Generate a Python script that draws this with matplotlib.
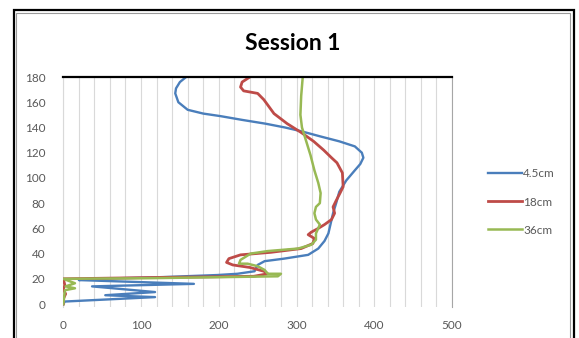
import matplotlib
matplotlib.use("Agg")
import matplotlib.pyplot as plt
from matplotlib.patches import Rectangle
from matplotlib.lines import Line2D

plt.rcParams['font.family'] = ['Lato', 'DejaVu Sans']

title = "Session 1"
series_names = ["4.5cm", "18cm", "36cm"]

blue_x = [158, 150, 145, 144, 148, 160, 180, 202, 230, 260, 285, 306, 330, 355, 375, 384, 386, 382,
          375, 364, 355, 351, 347, 344, 341, 336, 328, 315, 284, 259, 250, 246, 224, 198, 112, 34,
          20, 168, 37, 118, 54, 118, 2, 0]
blue_y = [180, 176, 171, 167, 160, 154, 151, 149, 146, 143, 140, 137, 133, 129, 125, 120, 116, 111,
          106, 98, 89, 80, 72, 64, 56, 50, 44, 39, 36, 34, 31, 26, 24, 23, 21, 20,
          19, 16, 14, 9.5, 7, 5.5, 2, 0]

red_x = [240, 230, 228, 232, 250, 258, 271, 288, 306, 322, 335, 345, 352, 359, 360, 356, 351, 347,
         349, 345, 336, 328, 319, 315, 323, 321, 306, 267, 228, 213, 210, 218, 240, 258, 263, 245,
         112, 0, 2, 0, 3, 0, 0]
red_y = [180, 176, 172, 169, 167, 162, 151, 143, 136, 129, 122, 116, 112, 104, 93, 88, 82, 77,
         72, 67, 63, 60, 57, 55, 52, 48, 44, 41, 39, 36, 33, 31, 29, 26, 24, 22,
         21, 20, 15, 12, 8, 4, 0]

green_x = [308, 306, 305, 307, 312, 318, 323, 328, 331, 330, 325, 323, 325, 330, 325, 325, 319, 302,
           263, 241, 228, 226, 237, 250, 259, 263, 280, 276, 112, 0, 15, 3, 15, 2, 1, 0]
green_y = [180, 165, 150, 140, 130, 118, 106, 96, 88, 80, 77, 72, 67, 63, 56, 51, 47, 44,
           42, 40, 35, 32, 32, 30, 27, 24, 24, 22, 20.5, 20, 16.5, 14, 12.5, 11, 5, 0]

x_ticks = [0, 100, 200, 300, 400, 500]
y_ticks = [0, 20, 40, 60, 80, 100, 120, 140, 160, 180]
y_marks = [20, 60, 100, 140, 180]

colors = ["#4a7ebb", "#be4b48", "#98b954"]
widths = [1.7, 2.0, 1.8]

W, H = 579, 338
fig = plt.figure(figsize=(W / 100, H / 100), dpi=100)

# outer frames
fig.patches.append(Rectangle((13.5 / W, -0.05), (574 - 13.5) / W, 1 - 10.5 / H + 0.05,
                             transform=fig.transFigure, fill=False, edgecolor="black", lw=1.6))
fig.patches.append(Rectangle((16 / W, -0.05), (570 - 16) / W, 1 - 13 / H + 0.05,
                             transform=fig.transFigure, fill=False, edgecolor="#9a9a9a", lw=0.8))

ax = fig.add_axes([63.3 / W, 1 - 307.2 / H, (452 - 63.3) / W, (307.2 - 77) / H])

for xs, ys, c, lw, name in zip([blue_x, red_x, green_x], [blue_y, red_y, green_y], colors, widths, series_names):
    ax.plot(xs, ys, color=c, lw=lw, label=name, solid_joinstyle="round", zorder=3)

ax.set_xlim(0, 500)
ax.set_ylim(-2.5, 180)

ax.set_xticks(x_ticks)
ax.set_xticks(range(0, 501, 20), minor=True)
ax.grid(True, axis="x", which="both", color="#d9d9d9", lw=0.8, zorder=0)
ax.tick_params(axis="x", which="both", length=0, pad=9, labelsize=8.5, labelcolor="#595959")

ax.set_yticks(y_ticks)
ax.set_yticks(y_marks, minor=True)
ax.tick_params(axis="y", which="major", length=0, pad=13, labelsize=8.5, labelcolor="#595959")
ax.tick_params(axis="y", which="minor", length=5, width=0.8, color="#8c8c8c")

ax.spines["bottom"].set_visible(False)
ax.spines["left"].set_color("#d9d9d9")
ax.spines["left"].set_linewidth(0.8)
ax.spines["right"].set_color("#a6a6a6")
ax.spines["right"].set_linewidth(0.8)
ax.spines["top"].set_color("black")
ax.spines["top"].set_linewidth(1.6)
ax.spines["top"].set_zorder(4)

fig.text(293 / W, 1 - 43 / H, title, ha="center", va="center", fontsize=16.5, fontweight="bold", color="black")

handles = [Line2D([], [], color=c, lw=lw) for c, lw in zip(colors, widths)]
fig.legend(handles, series_names, loc="center left", bbox_to_anchor=(477 / W, 1 - 202 / H),
           frameon=False, fontsize=8.5, labelcolor="#595959", handlelength=2.9, handletextpad=0.1,
           labelspacing=1.45)

fig.savefig("out.png", dpi=100)
